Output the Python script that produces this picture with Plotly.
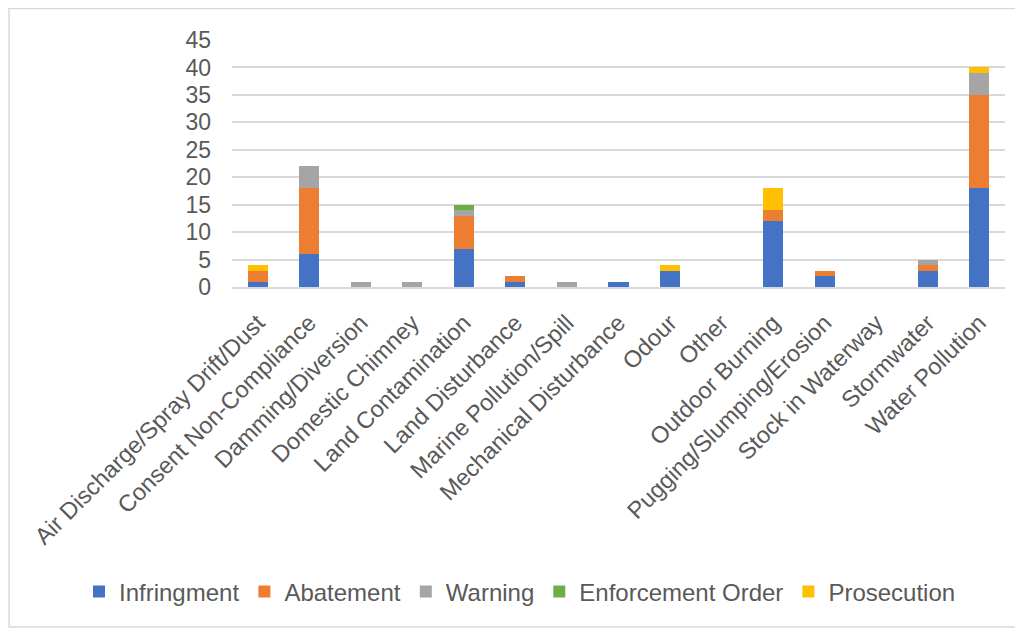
import plotly.graph_objects as go

categories = ["Air Discharge/Spray Drift/Dust", "Consent Non-Compliance", "Damming/Diversion",
              "Domestic Chimney", "Land Contamination", "Land Disturbance", "Marine Pollution/Spill",
              "Mechanical Disturbance", "Odour", "Other", "Outdoor Burning", "Pugging/Slumping/Erosion",
              "Stock in Waterway", "Stormwater", "Water Pollution"]
infringment = [1, 6, 0, 0, 7, 1, 0, 1, 3, 0, 12, 2, 0, 3, 18]
abatement = [2, 12, 0, 0, 6, 1, 0, 0, 0, 0, 2, 1, 0, 1, 17]
warning = [0, 4, 1, 1, 1, 0, 1, 0, 0, 0, 0, 0, 0, 1, 4]
enforcement = [0, 0, 0, 0, 1, 0, 0, 0, 0, 0, 0, 0, 0, 0, 0]
prosecution = [1, 0, 0, 0, 0, 0, 0, 0, 1, 0, 4, 0, 0, 0, 1]

series = [("Infringment", infringment, "#4472C4"),
          ("Abatement", abatement, "#ED7D31"),
          ("Warning", warning, "#A5A5A5"),
          ("Enforcement Order", enforcement, "#70AD47"),
          ("Prosecution", prosecution, "#FFC000")]

fig = go.Figure()
for name, vals, col in series:
    fig.add_trace(go.Bar(name=name, x=categories, y=vals, marker=dict(color=col, line=dict(width=0))))

W, H = 1023, 630
L, R, T, B = 224, 26, 32, 351
pw, ph = W - L - R, H - T - B

FONT = "Liberation Sans, Arial, sans-serif"
GREY = "#595959"

fig.update_layout(
    width=W, height=H, barmode="stack", bargap=0.61,
    margin=dict(l=L, r=R, t=T, b=B, autoexpand=False),
    paper_bgcolor="white", plot_bgcolor="white",
    font=dict(family=FONT, size=22, color=GREY),
    legend=dict(orientation="h", x=(71 - L) / pw, xanchor="left",
                y=-(584 - (H - B)) / ph, yanchor="middle",
                font=dict(size=24, color=GREY), bgcolor="rgba(0,0,0,0)",
                traceorder="normal", itemwidth=30),
    xaxis=dict(tickangle=-45, showline=True, linecolor="#D9D9D9", linewidth=1.5, ticks="",
               tickfont=dict(size=23.5, color=GREY), ticklabelstandoff=11),
    yaxis=dict(range=[0, 45], dtick=5, showgrid=True, gridcolor="#D9D9D9", gridwidth=1.5,
               zeroline=False, ticks="", tickfont=dict(size=23, color=GREY), ticklabelstandoff=20),
    shapes=[dict(type="rect", xref="paper", yref="paper",
                 x0=-(L - 1) / pw, x1=1 + (1012 - (W - R)) / pw, y0=-(619 - (H - B)) / ph, y1=1 + (T - 0.5) / ph,
                 line=dict(color="#D9D9D9", width=1.5), fillcolor="rgba(0,0,0,0)", layer="below")],
)

fig.write_html("out.html")
